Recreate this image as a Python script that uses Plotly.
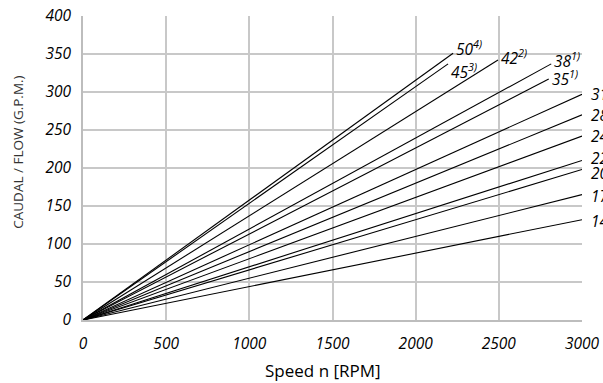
import plotly.graph_objects as go

# Series names (label text) and end points of each straight line from the origin
names = ["50", "45", "42", "38", "35", "31", "28", "24", "22", "20", "17", "14"]
sups = ["4)", "3)", "2)", "1)", "1)", "1)", "1)", "1)", "1)", "1)", "1)", "1)"]
end_rpm = [2225, 2195, 2495, 2815, 2800, 3000, 3000, 3000, 3000, 3000, 3000, 3000]
end_flow = [351, 337, 342, 337, 317, 297, 270, 242, 210, 198, 165, 132]
label_dy = [5, -7, 3, 4, 1, 1, 1, 1, 3, -2, 0, 0]

x_ticks = [0, 500, 1000, 1500, 2000, 2500, 3000]
y_ticks = [0, 50, 100, 150, 200, 250, 300, 350, 400]

FONT = "Open Sans"
fig = go.Figure()
annotations = []
for n, s, xr, yf, dy in zip(names, sups, end_rpm, end_flow, label_dy):
    fig.add_trace(go.Scatter(x=[0, xr], y=[0, yf], mode="lines",
                             line=dict(color="black", width=1.1),
                             showlegend=False, hoverinfo="skip"))
    txt = n + (f"<sup>{s}</sup>" if s else "")
    annotations.append(dict(x=xr, y=yf, xref="x", yref="y", text=txt,
                            showarrow=False, xanchor="left", yanchor="middle",
                            xshift=1 if xr < 3000 else 7, yshift=dy,
                            font=dict(family=FONT, size=15.5, color="black", style="italic")))

annotations.append(dict(x=0.48, y=0, xref="paper", yref="paper", yshift=-50,
                        text="Speed n [RPM]", showarrow=False,
                        xanchor="center", yanchor="middle",
                        font=dict(family=FONT, size=17, color="black")))
annotations.append(dict(x=0, y=0.55, xref="paper", yref="paper", xshift=-65,
                        text="CAUDAL / FLOW (G.P.M.)", showarrow=False, textangle=-90,
                        xanchor="center", yanchor="middle",
                        font=dict(family=FONT, size=13.5, color="#333333")))

fig.update_layout(
    width=603, height=383,
    margin=dict(l=83, r=21, t=16, b=63),
    paper_bgcolor="white", plot_bgcolor="white",
    annotations=annotations,
    xaxis=dict(range=[0, 3000], tickvals=x_ticks, showgrid=True, automargin=False,
               gridcolor="#c8c8c8", gridwidth=1.5, showline=True,
               linecolor="#bdbdbd", linewidth=1.5, zeroline=False,
               ticks="", ticklabelstandoff=9,
               tickfont=dict(family=FONT, size=15.5, color="black", style="italic")),
    yaxis=dict(range=[0, 400], tickvals=y_ticks, showgrid=True, automargin=False,
               gridcolor="#c8c8c8", gridwidth=1.5, showline=True,
               linecolor="#bdbdbd", linewidth=1.5, zeroline=False,
               ticks="", ticklabelstandoff=7,
               tickfont=dict(family=FONT, size=15.5, color="black", style="italic")),
)

fig.write_html("out.html", config={"displayModeBar": False},
               post_script="document.body.style.margin='0';document.body.style.overflow='hidden';")
